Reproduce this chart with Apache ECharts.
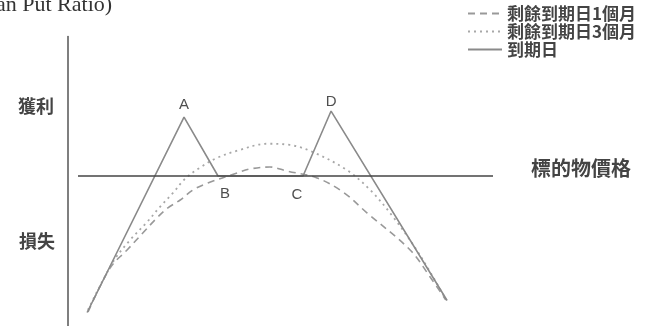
<!DOCTYPE html>
<html><head><meta charset="utf-8">
<script src="https://cdn.jsdelivr.net/npm/echarts@6/dist/echarts.min.js"></script>
<style>html,body{margin:0;padding:0;background:#fff}#c{width:652px;height:326px}</style>
</head><body><div id="c"></div>
<script>
// Series names (legend)
const seriesNames = ['剩餘到期日1個月', '剩餘到期日3個月', '到期日'];
// Expiry payoff: [price, P&L]
const payoffX = [4.5, 27.3, 35.3, 55.3, 61.9, 89.2];
const payoffY = [-91, 39.3, 0, 0, 43.3, -83];
const payoffLabels = ['', 'A', 'B', 'C', 'D', ''];
// 1 month to expiry (dashed)
const m1X = [4.7, 9.9, 13.9, 17.6, 20.9, 23.5, 26.4, 29.4, 32.9, 39.8, 42.8, 47.5, 51.5, 58.6, 64.7, 70.4, 80.5, 85.2, 88.9];
const m1Y = [-90.7, -61.3, -49.3, -38, -28, -21.3, -16, -9.3, -4.7, 2, 4.7, 6, 3.3, -1.3, -10.7, -24.7, -49.3, -67.3, -82.7];
// 3 months to expiry (dotted)
const m3X = [4.7, 10.6, 14.6, 18.6, 21.6, 24.7, 27.5, 31.0, 35.0, 40.0, 46.8, 52.2, 57.6, 65.6, 71.1, 76.5, 82.8, 88.7];
const m3Y = [-89.3, -57.3, -42.7, -30.7, -20.7, -11.3, -2.0, 5.5, 12.0, 17.0, 21.5, 20.7, 16, 4, -9.3, -27.3, -52.7, -81.3];
// Underlying price axis line
const axisX = [2.35, 100];
const axisY = [0, 0];
// Texts
const titleText = 'an Put Ratio)';
const profitText = '獲利';
const lossText = '損失';
const priceText = '標的物價格';

const zip = (xs, ys) => xs.map((x, i) => [x, ys[i]]);
const labelPos = {
  A: {position: 'top', distance: 5},
  B: {position: 'bottom', offset: [7, 5]},
  C: {position: 'bottom', offset: [-6, 6]},
  D: {position: 'top', distance: 2}
};
const labelData = [];
payoffX.forEach((x, i) => {
  const l = payoffLabels[i];
  if (l) labelData.push({value: [x, payoffY[i]], label: Object.assign({show: true, formatter: l}, labelPos[l])});
});

const cjk = '"Noto Sans CJK TC", "Noto Sans CJK SC", sans-serif';
const chart = echarts.init(document.getElementById('c'), null, {renderer: 'canvas'});
chart.setOption({
  animation: false,
  backgroundColor: '#fff',
  grid: {left: 68, right: 159, top: 36.5, bottom: 0},
  xAxis: {type: 'value', min: 0, max: 100, show: false},
  yAxis: {type: 'value', min: -100, max: 93,
    axisLine: {show: true, lineStyle: {color: '#555', width: 1.5}},
    axisTick: {show: false}, axisLabel: {show: false}, splitLine: {show: false}},
  legend: {
    orient: 'vertical', left: 467, top: 5, padding: [0, 0, 0, 0], itemGap: 1, itemWidth: 34, itemHeight: 15,
    data: seriesNames,
    itemStyle: {opacity: 0},
    textStyle: {fontFamily: cjk, fontSize: 17, fontWeight: 'bold', color: '#444'}
  },
  graphic: [
    {type: 'text', left: -4, top: -6, style: {text: titleText, font: '22px "Liberation Serif", serif', fill: '#333'}},
    {type: 'text', left: 18, top: 97, style: {text: profitText, font: 'bold 18px ' + cjk, fill: '#444'}},
    {type: 'text', left: 19, top: 232, style: {text: lossText, font: 'bold 18px ' + cjk, fill: '#444'}},
    {type: 'text', left: 531, top: 158, style: {text: priceText, font: 'bold 20px ' + cjk, fill: '#444'}}
  ],
  series: [
    {name: seriesNames[0], type: 'line', smooth: 0.35, symbol: 'none', data: zip(m1X, m1Y), z: 3,
      lineStyle: {color: '#999', width: 1.6, type: [7, 5]}, itemStyle: {color: '#999'}},
    {name: seriesNames[1], type: 'line', smooth: 0.35, symbol: 'none', data: zip(m3X, m3Y), z: 3,
      lineStyle: {color: '#a8a8a8', width: 1.8, type: [2, 4]}, itemStyle: {color: '#a8a8a8'}},
    {name: seriesNames[2], type: 'line', symbol: 'none', data: zip(payoffX, payoffY), z: 4,
      lineStyle: {color: '#8a8a8a', width: 1.6}, itemStyle: {color: '#8a8a8a'}},
    {name: 'axis', type: 'line', symbol: 'none', data: zip(axisX, axisY), z: 5, silent: true,
      lineStyle: {color: '#444', width: 1.6}},
    {name: 'points', type: 'scatter', symbolSize: 0, data: labelData, z: 6, silent: true,
      label: {show: true, color: '#222', fontSize: 15, fontFamily: '"Liberation Sans", Arial, sans-serif'}}
  ]
});
</script></body></html>
